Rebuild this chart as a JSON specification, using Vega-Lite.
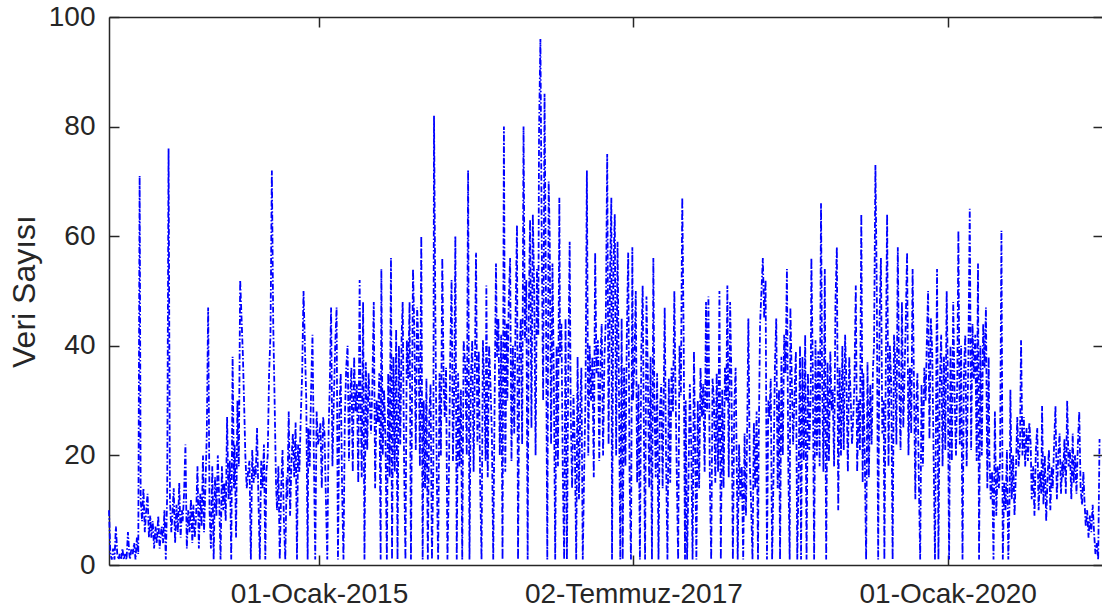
{
"$schema": "https://vega.github.io/schema/vega-lite/v6.json",
"autosize": "none",
"width": 994,
"height": 548,
"padding": {"left": 109, "top": 17, "right": 0, "bottom": 48},
"background": "white",
"config": {"view": {"stroke": null}, "axis": {"grid": false, "domainColor": "#262626", "tickColor": "#262626", "labelColor": "#262626", "titleColor": "#262626", "labelFont": "Liberation Sans", "titleFont": "Liberation Sans", "labelFontSize": 28, "titleFontSize": 32, "titleFontWeight": "normal", "domainWidth": 1.5, "tickWidth": 1.5, "labelLimit": 0}},
"datasets": {"t": [
{"d":"2013-05-01","v":10},{"d":"2013-05-05","v":2},{"d":"2013-05-09","v":1},{"d":"2013-05-13","v":3},{"d":"2013-05-17","v":1},{"d":"2013-05-21","v":7},{"d":"2013-05-25","v":2},{"d":"2013-05-29","v":1},
{"d":"2013-06-01","v":2},{"d":"2013-06-05","v":1},{"d":"2013-06-09","v":3},{"d":"2013-06-13","v":1},{"d":"2013-06-17","v":2},{"d":"2013-06-21","v":1},{"d":"2013-06-25","v":6},{"d":"2013-06-29","v":2},
{"d":"2013-07-01","v":1},{"d":"2013-07-05","v":3},{"d":"2013-07-09","v":2},{"d":"2013-07-13","v":4},{"d":"2013-07-17","v":1},{"d":"2013-07-21","v":5},{"d":"2013-07-25","v":2},{"d":"2013-07-29","v":71},
{"d":"2013-08-01","v":12},{"d":"2013-08-05","v":8},{"d":"2013-08-09","v":14},{"d":"2013-08-13","v":6},{"d":"2013-08-17","v":10},{"d":"2013-08-21","v":13},{"d":"2013-08-25","v":5},{"d":"2013-08-29","v":9},
{"d":"2013-09-01","v":5},{"d":"2013-09-05","v":8},{"d":"2013-09-09","v":3},{"d":"2013-09-13","v":7},{"d":"2013-09-17","v":4},{"d":"2013-09-21","v":9},{"d":"2013-09-25","v":3},{"d":"2013-09-29","v":6},
{"d":"2013-10-01","v":7},{"d":"2013-10-05","v":4},{"d":"2013-10-09","v":10},{"d":"2013-10-13","v":1},{"d":"2013-10-17","v":13},{"d":"2013-10-21","v":76},{"d":"2013-10-25","v":12},{"d":"2013-10-29","v":6},
{"d":"2013-11-01","v":9},{"d":"2013-11-05","v":14},{"d":"2013-11-09","v":4},{"d":"2013-11-13","v":11},{"d":"2013-11-17","v":6},{"d":"2013-11-21","v":15},{"d":"2013-11-25","v":5},{"d":"2013-11-29","v":10},
{"d":"2013-12-01","v":8},{"d":"2013-12-05","v":13},{"d":"2013-12-09","v":22},{"d":"2013-12-13","v":3},{"d":"2013-12-17","v":10},{"d":"2013-12-21","v":6},{"d":"2013-12-25","v":12},{"d":"2013-12-29","v":4},
{"d":"2014-01-01","v":11},{"d":"2014-01-05","v":5},{"d":"2014-01-09","v":9},{"d":"2014-01-13","v":18},{"d":"2014-01-17","v":3},{"d":"2014-01-21","v":13},{"d":"2014-01-25","v":7},{"d":"2014-01-29","v":20},
{"d":"2014-02-01","v":6},{"d":"2014-02-05","v":14},{"d":"2014-02-09","v":24},{"d":"2014-02-13","v":47},{"d":"2014-02-17","v":10},{"d":"2014-02-21","v":3},{"d":"2014-02-25","v":18},
{"d":"2014-03-01","v":1},{"d":"2014-03-05","v":16},{"d":"2014-03-09","v":9},{"d":"2014-03-13","v":20},{"d":"2014-03-17","v":12},{"d":"2014-03-21","v":1},{"d":"2014-03-25","v":18},{"d":"2014-03-29","v":10},
{"d":"2014-04-01","v":15},{"d":"2014-04-05","v":8},{"d":"2014-04-09","v":27},{"d":"2014-04-13","v":12},{"d":"2014-04-17","v":19},{"d":"2014-04-21","v":1},{"d":"2014-04-25","v":38},{"d":"2014-04-29","v":14},
{"d":"2014-05-01","v":22},{"d":"2014-05-05","v":5},{"d":"2014-05-09","v":30},{"d":"2014-05-13","v":18},{"d":"2014-05-17","v":52},{"d":"2014-05-21","v":45},{"d":"2014-05-25","v":38},{"d":"2014-05-29","v":28},
{"d":"2014-06-01","v":20},{"d":"2014-06-05","v":14},{"d":"2014-06-09","v":17},{"d":"2014-06-13","v":19},{"d":"2014-06-17","v":1},{"d":"2014-06-21","v":21},{"d":"2014-06-25","v":15},{"d":"2014-06-29","v":18},
{"d":"2014-07-01","v":16},{"d":"2014-07-05","v":25},{"d":"2014-07-09","v":12},{"d":"2014-07-13","v":1},{"d":"2014-07-17","v":19},{"d":"2014-07-21","v":14},{"d":"2014-07-25","v":22},{"d":"2014-07-29","v":1},
{"d":"2014-08-01","v":17},{"d":"2014-08-05","v":20},{"d":"2014-08-09","v":35},{"d":"2014-08-13","v":42},{"d":"2014-08-17","v":72},{"d":"2014-08-21","v":44},{"d":"2014-08-25","v":30},{"d":"2014-08-29","v":15},
{"d":"2014-09-01","v":10},{"d":"2014-09-05","v":18},{"d":"2014-09-09","v":1},{"d":"2014-09-13","v":14},{"d":"2014-09-17","v":21},{"d":"2014-09-21","v":8},{"d":"2014-09-25","v":1},{"d":"2014-09-29","v":16},
{"d":"2014-10-01","v":12},{"d":"2014-10-05","v":28},{"d":"2014-10-09","v":9},{"d":"2014-10-13","v":19},{"d":"2014-10-17","v":24},{"d":"2014-10-21","v":16},{"d":"2014-10-25","v":26},{"d":"2014-10-29","v":1},
{"d":"2014-11-01","v":22},{"d":"2014-11-05","v":17},{"d":"2014-11-09","v":27},{"d":"2014-11-13","v":35},{"d":"2014-11-17","v":50},{"d":"2014-11-21","v":40},{"d":"2014-11-25","v":30},{"d":"2014-11-29","v":1},
{"d":"2014-12-01","v":25},{"d":"2014-12-05","v":18},{"d":"2014-12-09","v":32},{"d":"2014-12-13","v":42},{"d":"2014-12-17","v":20},{"d":"2014-12-21","v":1},{"d":"2014-12-25","v":28},{"d":"2014-12-29","v":22},
{"d":"2015-01-01","v":23},{"d":"2015-01-05","v":26},{"d":"2015-01-09","v":14},{"d":"2015-01-13","v":27},{"d":"2015-01-17","v":24},{"d":"2015-01-21","v":12},{"d":"2015-01-25","v":1},{"d":"2015-01-29","v":25},
{"d":"2015-02-01","v":32},{"d":"2015-02-05","v":47},{"d":"2015-02-09","v":18},{"d":"2015-02-13","v":30},{"d":"2015-02-17","v":40},{"d":"2015-02-21","v":47},{"d":"2015-02-25","v":1},
{"d":"2015-03-01","v":28},{"d":"2015-03-05","v":35},{"d":"2015-03-09","v":14},{"d":"2015-03-13","v":1},{"d":"2015-03-17","v":27},{"d":"2015-03-21","v":36},{"d":"2015-03-25","v":40},{"d":"2015-03-29","v":19},
{"d":"2015-04-01","v":30},{"d":"2015-04-05","v":36},{"d":"2015-04-09","v":17},{"d":"2015-04-13","v":38},{"d":"2015-04-17","v":28},{"d":"2015-04-21","v":33},{"d":"2015-04-25","v":15},{"d":"2015-04-29","v":52},
{"d":"2015-05-01","v":34},{"d":"2015-05-05","v":16},{"d":"2015-05-09","v":48},{"d":"2015-05-13","v":1},{"d":"2015-05-17","v":37},{"d":"2015-05-21","v":21},{"d":"2015-05-25","v":35},{"d":"2015-05-29","v":29},
{"d":"2015-06-01","v":24},{"d":"2015-06-05","v":33},{"d":"2015-06-09","v":48},{"d":"2015-06-13","v":14},{"d":"2015-06-17","v":30},{"d":"2015-06-21","v":26},{"d":"2015-06-25","v":35},{"d":"2015-06-29","v":1},
{"d":"2015-07-01","v":54},{"d":"2015-07-05","v":20},{"d":"2015-07-09","v":32},{"d":"2015-07-13","v":23},{"d":"2015-07-17","v":1},{"d":"2015-07-21","v":35},{"d":"2015-07-25","v":16},{"d":"2015-07-29","v":56},
{"d":"2015-08-01","v":1},{"d":"2015-08-05","v":38},{"d":"2015-08-09","v":17},{"d":"2015-08-13","v":43},{"d":"2015-08-17","v":1},{"d":"2015-08-21","v":40},{"d":"2015-08-25","v":22},{"d":"2015-08-29","v":42},
{"d":"2015-09-01","v":48},{"d":"2015-09-05","v":19},{"d":"2015-09-09","v":1},{"d":"2015-09-13","v":41},{"d":"2015-09-17","v":34},{"d":"2015-09-21","v":48},{"d":"2015-09-25","v":1},{"d":"2015-09-29","v":39},
{"d":"2015-10-01","v":54},{"d":"2015-10-05","v":42},{"d":"2015-10-09","v":21},{"d":"2015-10-13","v":47},{"d":"2015-10-17","v":40},{"d":"2015-10-21","v":18},{"d":"2015-10-25","v":60},{"d":"2015-10-29","v":1},
{"d":"2015-11-01","v":30},{"d":"2015-11-05","v":14},{"d":"2015-11-09","v":34},{"d":"2015-11-13","v":1},{"d":"2015-11-17","v":27},{"d":"2015-11-21","v":33},{"d":"2015-11-25","v":1},{"d":"2015-11-29","v":18},
{"d":"2015-12-01","v":82},{"d":"2015-12-05","v":45},{"d":"2015-12-09","v":16},{"d":"2015-12-13","v":1},{"d":"2015-12-17","v":35},{"d":"2015-12-21","v":20},{"d":"2015-12-25","v":56},{"d":"2015-12-29","v":33},
{"d":"2016-01-01","v":27},{"d":"2016-01-05","v":36},{"d":"2016-01-09","v":1},{"d":"2016-01-13","v":15},{"d":"2016-01-17","v":38},{"d":"2016-01-21","v":52},{"d":"2016-01-25","v":19},{"d":"2016-01-29","v":34},
{"d":"2016-02-01","v":60},{"d":"2016-02-05","v":1},{"d":"2016-02-09","v":35},{"d":"2016-02-13","v":18},{"d":"2016-02-17","v":32},{"d":"2016-02-21","v":1},{"d":"2016-02-25","v":41},
{"d":"2016-03-01","v":36},{"d":"2016-03-05","v":20},{"d":"2016-03-09","v":72},{"d":"2016-03-13","v":1},{"d":"2016-03-17","v":34},{"d":"2016-03-21","v":41},{"d":"2016-03-25","v":17},{"d":"2016-03-29","v":38},
{"d":"2016-04-01","v":57},{"d":"2016-04-05","v":22},{"d":"2016-04-09","v":39},{"d":"2016-04-13","v":15},{"d":"2016-04-17","v":1},{"d":"2016-04-21","v":41},{"d":"2016-04-25","v":32},{"d":"2016-04-29","v":19},
{"d":"2016-05-01","v":51},{"d":"2016-05-05","v":16},{"d":"2016-05-09","v":40},{"d":"2016-05-13","v":33},{"d":"2016-05-17","v":24},{"d":"2016-05-21","v":1},{"d":"2016-05-25","v":30},{"d":"2016-05-29","v":55},
{"d":"2016-06-01","v":38},{"d":"2016-06-05","v":45},{"d":"2016-06-09","v":20},{"d":"2016-06-13","v":42},{"d":"2016-06-17","v":1},{"d":"2016-06-21","v":80},{"d":"2016-06-25","v":17},{"d":"2016-06-29","v":44},
{"d":"2016-07-01","v":30},{"d":"2016-07-05","v":48},{"d":"2016-07-09","v":56},{"d":"2016-07-13","v":19},{"d":"2016-07-17","v":40},{"d":"2016-07-21","v":24},{"d":"2016-07-25","v":46},{"d":"2016-07-29","v":62},
{"d":"2016-08-01","v":1},{"d":"2016-08-05","v":38},{"d":"2016-08-09","v":45},{"d":"2016-08-13","v":22},{"d":"2016-08-17","v":80},{"d":"2016-08-21","v":41},{"d":"2016-08-25","v":52},{"d":"2016-08-29","v":1},
{"d":"2016-09-01","v":45},{"d":"2016-09-05","v":63},{"d":"2016-09-09","v":25},{"d":"2016-09-13","v":64},{"d":"2016-09-17","v":50},{"d":"2016-09-21","v":20},{"d":"2016-09-25","v":54},{"d":"2016-09-29","v":42},
{"d":"2016-10-01","v":79},{"d":"2016-10-05","v":96},{"d":"2016-10-09","v":58},{"d":"2016-10-13","v":30},{"d":"2016-10-17","v":86},{"d":"2016-10-21","v":50},{"d":"2016-10-25","v":1},{"d":"2016-10-29","v":70},
{"d":"2016-11-01","v":60},{"d":"2016-11-05","v":22},{"d":"2016-11-09","v":55},{"d":"2016-11-13","v":34},{"d":"2016-11-17","v":1},{"d":"2016-11-21","v":40},{"d":"2016-11-25","v":18},{"d":"2016-11-29","v":67},
{"d":"2016-12-01","v":38},{"d":"2016-12-05","v":44},{"d":"2016-12-09","v":17},{"d":"2016-12-13","v":1},{"d":"2016-12-17","v":45},{"d":"2016-12-21","v":1},{"d":"2016-12-25","v":36},{"d":"2016-12-29","v":59},
{"d":"2017-01-01","v":28},{"d":"2017-01-05","v":14},{"d":"2017-01-09","v":31},{"d":"2017-01-13","v":22},{"d":"2017-01-17","v":1},{"d":"2017-01-21","v":38},{"d":"2017-01-25","v":12},{"d":"2017-01-29","v":30},
{"d":"2017-02-01","v":36},{"d":"2017-02-05","v":1},{"d":"2017-02-09","v":17},{"d":"2017-02-13","v":31},{"d":"2017-02-17","v":72},{"d":"2017-02-21","v":20},{"d":"2017-02-25","v":40},
{"d":"2017-03-01","v":30},{"d":"2017-03-05","v":38},{"d":"2017-03-09","v":16},{"d":"2017-03-13","v":57},{"d":"2017-03-17","v":35},{"d":"2017-03-21","v":41},{"d":"2017-03-25","v":19},{"d":"2017-03-29","v":39},
{"d":"2017-04-01","v":44},{"d":"2017-04-05","v":20},{"d":"2017-04-09","v":38},{"d":"2017-04-13","v":45},{"d":"2017-04-17","v":75},{"d":"2017-04-21","v":22},{"d":"2017-04-25","v":52},{"d":"2017-04-29","v":67},
{"d":"2017-05-01","v":1},{"d":"2017-05-05","v":54},{"d":"2017-05-09","v":64},{"d":"2017-05-13","v":20},{"d":"2017-05-17","v":59},{"d":"2017-05-21","v":33},{"d":"2017-05-25","v":1},{"d":"2017-05-29","v":45},
{"d":"2017-06-01","v":1},{"d":"2017-06-05","v":36},{"d":"2017-06-09","v":18},{"d":"2017-06-13","v":42},{"d":"2017-06-17","v":57},{"d":"2017-06-21","v":16},{"d":"2017-06-25","v":1},{"d":"2017-06-29","v":58},
{"d":"2017-07-01","v":30},{"d":"2017-07-05","v":37},{"d":"2017-07-09","v":50},{"d":"2017-07-13","v":15},{"d":"2017-07-17","v":33},{"d":"2017-07-21","v":1},{"d":"2017-07-25","v":39},{"d":"2017-07-29","v":51},
{"d":"2017-08-01","v":28},{"d":"2017-08-05","v":1},{"d":"2017-08-09","v":49},{"d":"2017-08-13","v":35},{"d":"2017-08-17","v":14},{"d":"2017-08-21","v":38},{"d":"2017-08-25","v":1},{"d":"2017-08-29","v":56},
{"d":"2017-09-01","v":30},{"d":"2017-09-05","v":16},{"d":"2017-09-09","v":35},{"d":"2017-09-13","v":1},{"d":"2017-09-17","v":28},{"d":"2017-09-21","v":33},{"d":"2017-09-25","v":14},{"d":"2017-09-29","v":36},
{"d":"2017-10-01","v":47},{"d":"2017-10-05","v":19},{"d":"2017-10-09","v":1},{"d":"2017-10-13","v":34},{"d":"2017-10-17","v":15},{"d":"2017-10-21","v":36},{"d":"2017-10-25","v":28},{"d":"2017-10-29","v":50},
{"d":"2017-11-01","v":34},{"d":"2017-11-05","v":17},{"d":"2017-11-09","v":1},{"d":"2017-11-13","v":40},{"d":"2017-11-17","v":31},{"d":"2017-11-21","v":67},{"d":"2017-11-25","v":42},{"d":"2017-11-29","v":1},
{"d":"2017-12-01","v":30},{"d":"2017-12-05","v":1},{"d":"2017-12-09","v":15},{"d":"2017-12-13","v":33},{"d":"2017-12-17","v":22},{"d":"2017-12-21","v":1},{"d":"2017-12-25","v":39},{"d":"2017-12-29","v":18},
{"d":"2018-01-01","v":1},{"d":"2018-01-05","v":30},{"d":"2018-01-09","v":14},{"d":"2018-01-13","v":36},{"d":"2018-01-17","v":27},{"d":"2018-01-21","v":33},{"d":"2018-01-25","v":17},{"d":"2018-01-29","v":48},
{"d":"2018-02-01","v":28},{"d":"2018-02-05","v":49},{"d":"2018-02-09","v":16},{"d":"2018-02-13","v":1},{"d":"2018-02-17","v":34},{"d":"2018-02-21","v":30},{"d":"2018-02-25","v":15},
{"d":"2018-03-01","v":35},{"d":"2018-03-05","v":17},{"d":"2018-03-09","v":50},{"d":"2018-03-13","v":1},{"d":"2018-03-17","v":32},{"d":"2018-03-21","v":14},{"d":"2018-03-25","v":36},{"d":"2018-03-29","v":30},
{"d":"2018-04-01","v":51},{"d":"2018-04-05","v":16},{"d":"2018-04-09","v":48},{"d":"2018-04-13","v":33},{"d":"2018-04-17","v":1},{"d":"2018-04-21","v":29},{"d":"2018-04-25","v":36},{"d":"2018-04-29","v":14},
{"d":"2018-05-01","v":1},{"d":"2018-05-05","v":22},{"d":"2018-05-09","v":12},{"d":"2018-05-13","v":18},{"d":"2018-05-17","v":1},{"d":"2018-05-21","v":24},{"d":"2018-05-25","v":9},{"d":"2018-05-29","v":27},
{"d":"2018-06-01","v":45},{"d":"2018-06-05","v":19},{"d":"2018-06-09","v":11},{"d":"2018-06-13","v":1},{"d":"2018-06-17","v":26},{"d":"2018-06-21","v":14},{"d":"2018-06-25","v":28},{"d":"2018-06-29","v":1},
{"d":"2018-07-01","v":22},{"d":"2018-07-05","v":44},{"d":"2018-07-09","v":50},{"d":"2018-07-13","v":56},{"d":"2018-07-17","v":45},{"d":"2018-07-21","v":52},{"d":"2018-07-25","v":1},{"d":"2018-07-29","v":30},
{"d":"2018-08-01","v":27},{"d":"2018-08-05","v":34},{"d":"2018-08-09","v":1},{"d":"2018-08-13","v":16},{"d":"2018-08-17","v":36},{"d":"2018-08-21","v":45},{"d":"2018-08-25","v":14},{"d":"2018-08-29","v":32},
{"d":"2018-09-01","v":1},{"d":"2018-09-05","v":38},{"d":"2018-09-09","v":20},{"d":"2018-09-13","v":42},{"d":"2018-09-17","v":35},{"d":"2018-09-21","v":54},{"d":"2018-09-25","v":18},{"d":"2018-09-29","v":1},
{"d":"2018-10-01","v":47},{"d":"2018-10-05","v":34},{"d":"2018-10-09","v":22},{"d":"2018-10-13","v":31},{"d":"2018-10-17","v":39},{"d":"2018-10-21","v":1},{"d":"2018-10-25","v":17},{"d":"2018-10-29","v":40},
{"d":"2018-11-01","v":1},{"d":"2018-11-05","v":38},{"d":"2018-11-09","v":19},{"d":"2018-11-13","v":42},{"d":"2018-11-17","v":1},{"d":"2018-11-21","v":35},{"d":"2018-11-25","v":21},{"d":"2018-11-29","v":31},
{"d":"2018-12-01","v":56},{"d":"2018-12-05","v":36},{"d":"2018-12-09","v":1},{"d":"2018-12-13","v":41},{"d":"2018-12-17","v":20},{"d":"2018-12-21","v":39},{"d":"2018-12-25","v":18},{"d":"2018-12-29","v":66},
{"d":"2019-01-01","v":35},{"d":"2019-01-05","v":17},{"d":"2019-01-09","v":54},{"d":"2019-01-13","v":1},{"d":"2019-01-17","v":37},{"d":"2019-01-21","v":19},{"d":"2019-01-25","v":39},{"d":"2019-01-29","v":28},
{"d":"2019-02-01","v":32},{"d":"2019-02-05","v":18},{"d":"2019-02-09","v":48},{"d":"2019-02-13","v":58},{"d":"2019-02-17","v":10},{"d":"2019-02-21","v":36},{"d":"2019-02-25","v":20},
{"d":"2019-03-01","v":40},{"d":"2019-03-05","v":21},{"d":"2019-03-09","v":42},{"d":"2019-03-13","v":33},{"d":"2019-03-17","v":17},{"d":"2019-03-21","v":38},{"d":"2019-03-25","v":31},{"d":"2019-03-29","v":22},
{"d":"2019-04-01","v":26},{"d":"2019-04-05","v":33},{"d":"2019-04-09","v":51},{"d":"2019-04-13","v":17},{"d":"2019-04-17","v":30},{"d":"2019-04-21","v":21},{"d":"2019-04-25","v":64},{"d":"2019-04-29","v":15},
{"d":"2019-05-01","v":35},{"d":"2019-05-05","v":20},{"d":"2019-05-09","v":1},{"d":"2019-05-13","v":37},{"d":"2019-05-17","v":16},{"d":"2019-05-21","v":33},{"d":"2019-05-25","v":22},{"d":"2019-05-29","v":36},
{"d":"2019-06-01","v":40},{"d":"2019-06-05","v":73},{"d":"2019-06-09","v":50},{"d":"2019-06-13","v":1},{"d":"2019-06-17","v":45},{"d":"2019-06-21","v":56},{"d":"2019-06-25","v":24},{"d":"2019-06-29","v":30},
{"d":"2019-07-01","v":1},{"d":"2019-07-05","v":35},{"d":"2019-07-09","v":64},{"d":"2019-07-13","v":18},{"d":"2019-07-17","v":40},{"d":"2019-07-21","v":33},{"d":"2019-07-25","v":1},{"d":"2019-07-29","v":42},
{"d":"2019-08-01","v":38},{"d":"2019-08-05","v":22},{"d":"2019-08-09","v":58},{"d":"2019-08-13","v":33},{"d":"2019-08-17","v":21},{"d":"2019-08-21","v":48},{"d":"2019-08-25","v":25},{"d":"2019-08-29","v":36},
{"d":"2019-09-01","v":44},{"d":"2019-09-05","v":57},{"d":"2019-09-09","v":20},{"d":"2019-09-13","v":36},{"d":"2019-09-17","v":24},{"d":"2019-09-21","v":54},{"d":"2019-09-25","v":33},{"d":"2019-09-29","v":12},
{"d":"2019-10-01","v":28},{"d":"2019-10-05","v":35},{"d":"2019-10-09","v":16},{"d":"2019-10-13","v":1},{"d":"2019-10-17","v":33},{"d":"2019-10-21","v":18},{"d":"2019-10-25","v":36},{"d":"2019-10-29","v":30},
{"d":"2019-11-01","v":40},{"d":"2019-11-05","v":50},{"d":"2019-11-09","v":23},{"d":"2019-11-13","v":45},{"d":"2019-11-17","v":39},{"d":"2019-11-21","v":20},{"d":"2019-11-25","v":1},{"d":"2019-11-29","v":36},
{"d":"2019-12-01","v":54},{"d":"2019-12-05","v":1},{"d":"2019-12-09","v":33},{"d":"2019-12-13","v":42},{"d":"2019-12-17","v":18},{"d":"2019-12-21","v":38},{"d":"2019-12-25","v":21},{"d":"2019-12-29","v":50},
{"d":"2020-01-01","v":36},{"d":"2020-01-05","v":1},{"d":"2020-01-09","v":40},{"d":"2020-01-13","v":19},{"d":"2020-01-17","v":48},{"d":"2020-01-21","v":31},{"d":"2020-01-25","v":20},{"d":"2020-01-29","v":35},
{"d":"2020-02-01","v":61},{"d":"2020-02-05","v":22},{"d":"2020-02-09","v":40},{"d":"2020-02-13","v":1},{"d":"2020-02-17","v":35},{"d":"2020-02-21","v":42},{"d":"2020-02-25","v":18},
{"d":"2020-03-01","v":38},{"d":"2020-03-05","v":65},{"d":"2020-03-09","v":21},{"d":"2020-03-13","v":44},{"d":"2020-03-17","v":34},{"d":"2020-03-21","v":42},{"d":"2020-03-25","v":19},{"d":"2020-03-29","v":55},
{"d":"2020-04-01","v":1},{"d":"2020-04-05","v":40},{"d":"2020-04-09","v":20},{"d":"2020-04-13","v":44},{"d":"2020-04-17","v":36},{"d":"2020-04-21","v":47},{"d":"2020-04-25","v":14},{"d":"2020-04-29","v":38},
{"d":"2020-05-01","v":20},{"d":"2020-05-05","v":12},{"d":"2020-05-09","v":17},{"d":"2020-05-13","v":1},{"d":"2020-05-17","v":28},{"d":"2020-05-21","v":9},{"d":"2020-05-25","v":18},{"d":"2020-05-29","v":14},
{"d":"2020-06-01","v":19},{"d":"2020-06-05","v":61},{"d":"2020-06-09","v":1},{"d":"2020-06-13","v":15},{"d":"2020-06-17","v":10},{"d":"2020-06-21","v":21},{"d":"2020-06-25","v":1},{"d":"2020-06-29","v":13},
{"d":"2020-07-01","v":32},{"d":"2020-07-05","v":12},{"d":"2020-07-09","v":20},{"d":"2020-07-13","v":9},{"d":"2020-07-17","v":17},{"d":"2020-07-21","v":27},{"d":"2020-07-25","v":18},{"d":"2020-07-29","v":22},
{"d":"2020-08-01","v":41},{"d":"2020-08-05","v":20},{"d":"2020-08-09","v":27},{"d":"2020-08-13","v":18},{"d":"2020-08-17","v":25},{"d":"2020-08-21","v":19},{"d":"2020-08-25","v":26},{"d":"2020-08-29","v":22},
{"d":"2020-09-01","v":12},{"d":"2020-09-05","v":18},{"d":"2020-09-09","v":9},{"d":"2020-09-13","v":21},{"d":"2020-09-17","v":25},{"d":"2020-09-21","v":10},{"d":"2020-09-25","v":17},{"d":"2020-09-29","v":13},
{"d":"2020-10-01","v":29},{"d":"2020-10-05","v":11},{"d":"2020-10-09","v":20},{"d":"2020-10-13","v":8},{"d":"2020-10-17","v":16},{"d":"2020-10-21","v":21},{"d":"2020-10-25","v":10},{"d":"2020-10-29","v":18},
{"d":"2020-11-01","v":14},{"d":"2020-11-05","v":22},{"d":"2020-11-09","v":29},{"d":"2020-11-13","v":12},{"d":"2020-11-17","v":20},{"d":"2020-11-21","v":24},{"d":"2020-11-25","v":13},{"d":"2020-11-29","v":19},
{"d":"2020-12-01","v":16},{"d":"2020-12-05","v":23},{"d":"2020-12-09","v":13},{"d":"2020-12-13","v":30},{"d":"2020-12-17","v":18},{"d":"2020-12-21","v":21},{"d":"2020-12-25","v":12},{"d":"2020-12-29","v":24},
{"d":"2021-01-01","v":15},{"d":"2021-01-05","v":20},{"d":"2021-01-09","v":13},{"d":"2021-01-13","v":22},{"d":"2021-01-17","v":28},{"d":"2021-01-21","v":14},{"d":"2021-01-25","v":11},{"d":"2021-01-29","v":17},
{"d":"2021-02-01","v":12},{"d":"2021-02-05","v":7},{"d":"2021-02-09","v":10},{"d":"2021-02-13","v":5},{"d":"2021-02-17","v":9},{"d":"2021-02-21","v":6},{"d":"2021-02-25","v":11},
{"d":"2021-03-01","v":6},{"d":"2021-03-05","v":2},{"d":"2021-03-09","v":4},{"d":"2021-03-13","v":1},{"d":"2021-03-17","v":23}
]},
"data": {"name": "t"},
"layer": [
{"mark": {"type": "line", "color": "#0000ff", "strokeWidth": 1.8, "strokeDash": [6, 2, 1.5, 2]},
 "encoding": {
  "x": {"field": "d", "type": "temporal",
        "scale": {"domain": [{"year": 2013, "month": 5, "date": 1}, {"year": 2021, "month": 3, "date": 27}]},
        "axis": {"orient": "bottom", "title": null, "tickSize": -10, "labelPadding": 25, "labelFlush": false,
                 "values": [{"year": 2015, "month": 1, "date": 1}, {"year": 2017, "month": 7, "date": 2}, {"year": 2020, "month": 1, "date": 1}],
                 "labelExpr": "timeFormat(datum.value, '%d') + '-' + ['Ocak','Şubat','Mart','Nisan','Mayıs','Haziran','Temmuz','Ağustos','Eylül','Ekim','Kasım','Aralık'][month(datum.value)] + '-' + timeFormat(datum.value, '%Y')"}},
  "y": {"field": "v", "type": "quantitative",
        "scale": {"domain": [0, 100], "nice": false},
        "axis": {"orient": "left", "values": [0, 20, 40, 60, 80, 100], "tickSize": -10, "labelPadding": 24,
                 "title": "Veri Sayısı", "titleX": -85, "titleY": 274, "titleAngle": -90, "titleAlign": "center", "titleBaseline": "middle"}}
 }},
{"mark": {"type": "line", "opacity": 0},
 "encoding": {
  "x": {"field": "d", "type": "temporal",
        "axis": {"orient": "top", "title": null, "labels": false, "tickSize": -10,
                 "values": [{"year": 2015, "month": 1, "date": 1}, {"year": 2017, "month": 7, "date": 2}, {"year": 2020, "month": 1, "date": 1}]}},
  "y": {"field": "v", "type": "quantitative",
        "axis": {"orient": "right", "title": null, "labels": false, "tickSize": -10, "values": [0, 20, 40, 60, 80, 100]}}
 }}
],
"resolve": {"axis": {"x": "independent", "y": "independent"}}
}
